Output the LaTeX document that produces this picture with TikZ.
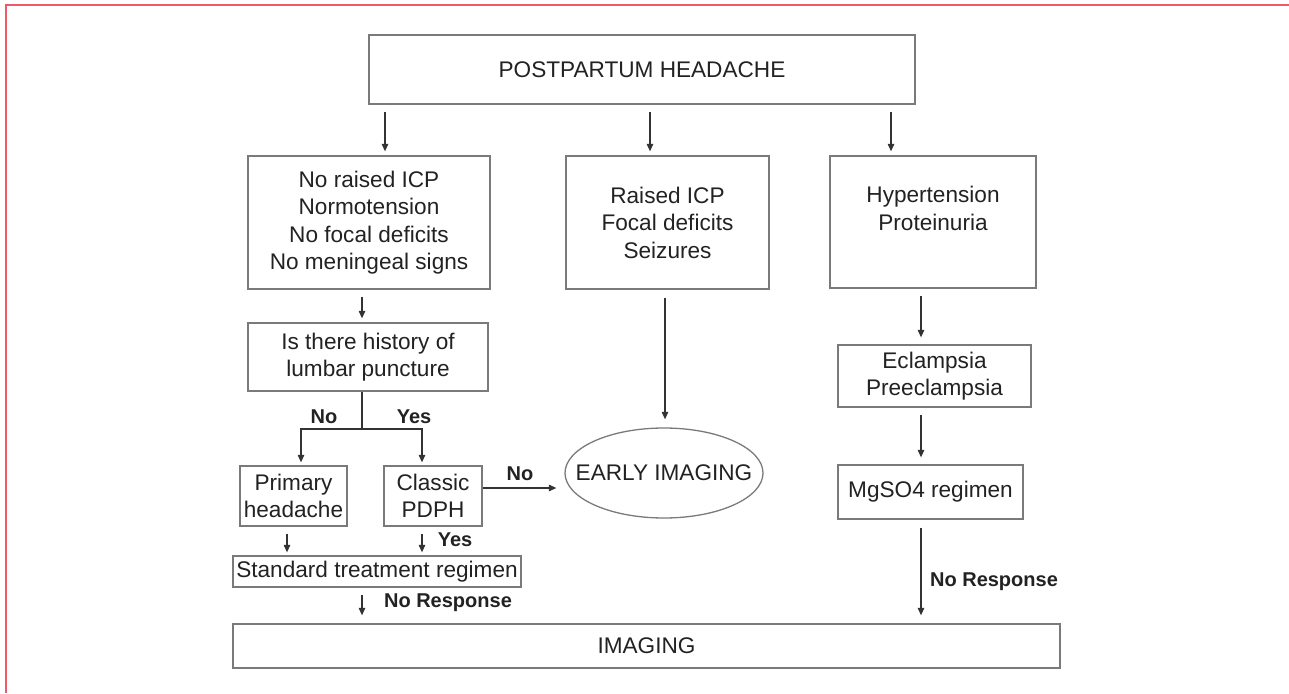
\documentclass[tikz,border=0pt]{standalone}
\usepackage{fontspec}
\setmainfont{Liberation Sans}
\usetikzlibrary{arrows.meta,shapes.geometric}
\definecolor{boxc}{HTML}{7A7A7A}
\definecolor{linec}{HTML}{333333}
\definecolor{txtc}{HTML}{222222}
\definecolor{framec}{HTML}{EE5A68}
\begin{document}
\begin{tikzpicture}[x=1pt,y=-1pt,
 box/.style={draw=boxc, line width=1.3pt, inner sep=0pt, align=center, text=txtc, font=\fontsize{22.6}{27.5}\selectfont},
 arr/.style={draw=linec, line width=1.1pt, -{Triangle[length=7.5pt,width=6.5pt]}},
 conn/.style={draw=linec, line width=1.1pt},
 lab/.style={text=txtc, font=\fontsize{20}{24}\selectfont\bfseries, inner sep=0pt}]
\useasboundingbox (0,0) rectangle (1289,693);
\fill[white] (0,0) rectangle (1289,693);
\draw[framec, line width=1.5pt] (6,693) -- (6,5) -- (1289,5);

\node[box, minimum width=546, minimum height=69] (top) at (642,69.5) {POSTPARTUM HEADACHE};
\node[box, minimum width=242, minimum height=133] (a) at (369,222.5) {No raised ICP\\Normotension\\No focal deficits\\No meningeal signs};
\node[box, minimum width=203, minimum height=133] (b) at (667.5,222.5) {Raised ICP\\Focal deficits\\Seizures};
\node[box, minimum width=206, minimum height=132] (c) at (933,222) {Hypertension\\Proteinuria\\\mbox{}};
\node[box, minimum width=240, minimum height=68] (d) at (368,357) {Is there history of\\lumbar puncture};
\node[box, minimum width=107, minimum height=60] (e) at (293.5,496) {Primary\\headache};
\node[box, minimum width=98, minimum height=60] (f) at (433,496) {Classic\\PDPH};
\node[box, minimum width=288, minimum height=31] (g) at (377,571.5) {Standard treatment regimen};
\node[box, ellipse, minimum width=198, minimum height=90] (ell) at (664,473) {\makebox[0pt]{EARLY IMAGING}};
\node[box, minimum width=193, minimum height=62] (h) at (934.5,376) {Eclampsia\\Preeclampsia};
\node[box, minimum width=185, minimum height=54] (i) at (930.5,492) {MgSO4 regimen};
\node[box, minimum width=827, minimum height=44] (img) at (646.5,646) {IMAGING};

\coordinate (br) at (362,429);

\draw[arr, shorten <=7pt, shorten >=4pt] (top.south -| 385,0) -- (a.north -| 385,0);
\draw[arr, shorten <=7pt, shorten >=4pt] (top.south -| 650,0) -- (b.north -| 650,0);
\draw[arr, shorten <=7pt, shorten >=4pt] (top.south -| 891,0) -- (c.north -| 891,0);
\draw[arr, shorten <=7pt, shorten >=4pt] (a.south -| 362,0) -- (d.north -| 362,0);
\draw[conn] (d.south -| 362,0) -- (br);
\draw[arr, shorten >=3pt] (br) -| (e.north -| 301,0);
\draw[arr, shorten >=3pt] (br) -| (f.north -| 422,0);
\draw[arr, shorten >=8pt] (f.east |- 0,488) -- (ell.west |- 0,488);
\draw[arr, shorten <=8pt, shorten >=8pt] (b.south -| 665,0) -- (ell.north -| 665,0);
\draw[arr, shorten <=7pt, shorten >=3pt] (e.south -| 287,0) -- (g.north -| 287,0);
\draw[arr, shorten <=7pt, shorten >=3pt] (f.south -| 422,0) -- (g.north -| 422,0);
\draw[arr, shorten <=7pt, shorten >=8pt] (g.south -| 362,0) -- (img.north -| 362,0);
\draw[arr, shorten <=7pt, shorten >=7pt] (c.south -| 921,0) -- (h.north -| 921,0);
\draw[arr, shorten <=7pt, shorten >=7pt] (h.south -| 921,0) -- (i.north -| 921,0);
\draw[arr, shorten <=8pt, shorten >=8pt] (i.south -| 921,0) -- (img.north -| 921,0);

\node[lab] (lno1) at (324,417) {No};
\node[lab] (lyes1) at (414,417) {Yes};
\node[lab] (lno2) at (520,474) {No};
\node[lab] (lyes2) at (455,540) {Yes};
\node[lab] (lnr1) at (448,603) {No Response};
\node[lab] (lnr2) at (994,582) {No Response};
\end{tikzpicture}
\end{document}
